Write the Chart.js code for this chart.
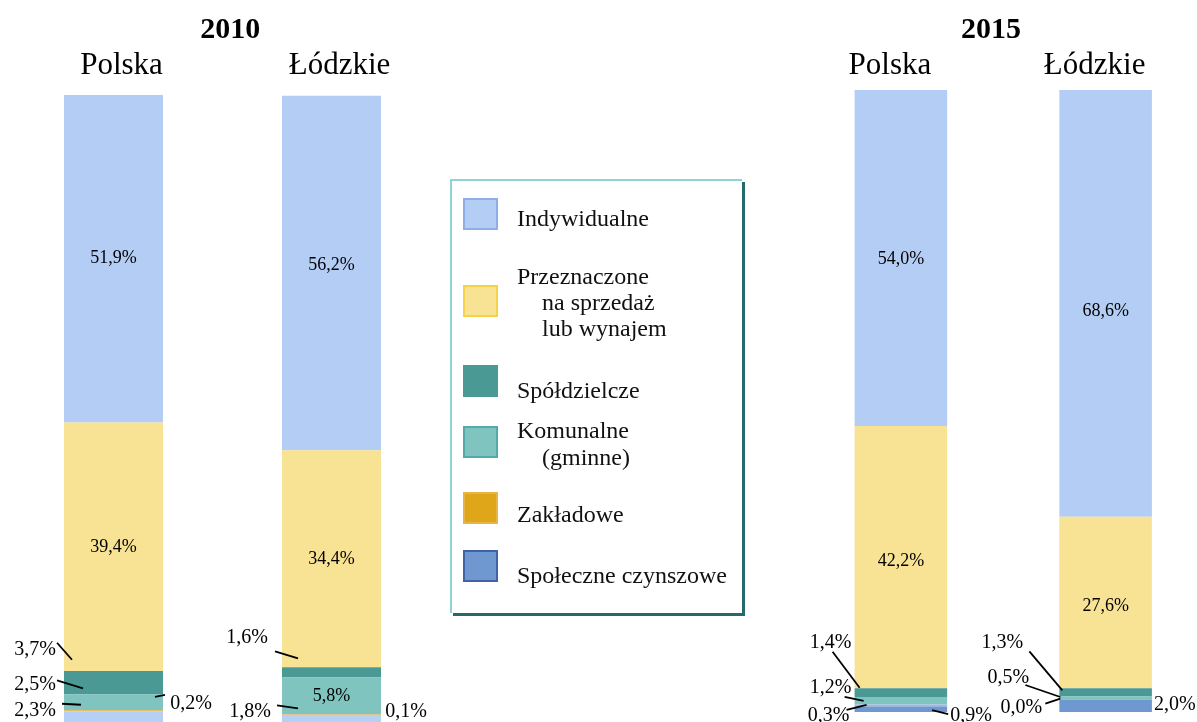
<!DOCTYPE html>
<html lang="pl">
<head>
<meta charset="utf-8">
<title>Mieszkania oddane do użytkowania – 2010 i 2015</title>
<script src="https://cdn.jsdelivr.net/npm/chart.js@4"></script>
<style>
    html, body { margin: 0; padding: 0; background: #fff; overflow: hidden; width: 1197px; height: 722px; }
    canvas { position: absolute; top: 0; }
    #wykres2010 { left: 0; }
    #wykres2015 { left: 774px; }
    #legenda {
        position: absolute; left: 450px; top: 179px; width: 292px; height: 434px;
        box-sizing: border-box; background: #fff;
        border-top: 2px solid #8fd3d9; border-left: 2px solid #8fd3d9;
        box-shadow: 3px 3px 0 #24696b;
        font-family: 'Liberation Serif', 'Times New Roman', serif; font-size: 24px; color: #111;
    }
    .pole { position: absolute; left: 11px; width: 31px; height: 28px; border: 2px solid; }
    .opis { position: absolute; height: 26px; line-height: 26px; white-space: nowrap; }
</style>
</head>
<body>
<canvas id="wykres2010" width="456" height="730"></canvas>
<canvas id="wykres2015" width="434" height="722"></canvas>
<div id="legenda"></div>
<script>
const FONT = "'Liberation Serif', 'Times New Roman', serif";

const categories = ['Polska', 'Łódzkie'];
const seriesNames = ['Indywidualne', 'Przeznaczone\nna sprzedaż\nlub wynajem', 'Spółdzielcze',
    'Komunalne\n(gminne)', 'Zakładowe', 'Społeczne czynszowe'];

// struktura mieszkań oddanych do użytkowania [%] – Polska, Łódzkie
const indywidualne2010 = [51.9, 56.2];
const przeznaczone2010 = [39.4, 34.4];
const spoldzielcze2010 = [3.7, 1.6];
const komunalne2010 = [2.5, 5.8];
const zakladowe2010 = [0.2, 0.1];
const spoleczne2010 = [2.3, 1.8];

const indywidualne2015 = [54.0, 68.6];
const przeznaczone2015 = [42.2, 27.6];
const spoldzielcze2015 = [1.4, 1.3];
const komunalne2015 = [1.2, 0.5];
const zakladowe2015 = [0.3, 0.0];
const spoleczne2015 = [0.9, 2.0];

const fillColors = ['#b4cdf4', '#f8e294', '#4a9994', '#80c4c0', '#e0a61a', '#7098d0'];
const edgeColors = ['#8eafe6', '#f6d24a', '#4a9994', '#52aba8', '#e8b446', '#3f63a6'];
// w 2010 społeczne czynszowe jasnoniebieskie, w 2015 zakładowe niebieskawe
const colors2010 = ['#b4cdf4', '#f8e294', '#4a9994', '#80c4c0', '#e8b13c', '#b6cff5'];
const colors2015 = ['#b4cdf4', '#f8e294', '#4a9994', '#80c4c0', '#9db7e6', '#7098d0'];

// rozmieszczenie etykiet: wewnątrz słupka albo z boku z odnośnikiem
const places2010 = [
    [{ inside: true, dy: 0 }, { inside: true, dy: -8 }],
    [{ inside: true, dy: 0 }, { inside: true, dy: 0 }],
    [{ side: 'left', dx: -29, dy: -33, line: [-7, -40, 8, -23] }, { side: 'left', dx: -35, dy: -35, line: [-7, -21, 16, -14] }],
    [{ side: 'left', dx: -29, dy: -18, line: [-7, -22, 19, -14] }, { inside: true, dy: 1 }],
    [{ side: 'right', dx: 28, dy: -7, line: [-8, -14, 2, -16] }, { side: 'right', dx: 25, dy: -3 }],
    [{ side: 'left', dx: -29, dy: -8, line: [-2, -15, 17, -14] }, { side: 'left', dx: -32, dy: -9, line: [-5, -15, 16, -12] }]
];
const places2015 = [
    [{ inside: true, dy: 1 }, { inside: true, dy: 8 }],
    [{ inside: true, dy: 4 }, { inside: true, dy: 4 }],
    [{ side: 'left', dx: -24, dy: -50, line: [-22, -41, 5, -5] }, { side: 'left', dx: -57, dy: -50, line: [-30, -41, 3, -2] }],
    [{ side: 'left', dx: -24, dy: -13, line: [-10, -4, 9, 0] }, { side: 'left', dx: -51, dy: -20, line: [-34, -13, 1, -1] }],
    [{ side: 'left', dx: -26, dy: 10, line: [-8, 4.5, 12, -0.5] }, { side: 'left', dx: -38, dy: 8, line: [-14, 4, 1, -1] }],
    [{ side: 'right', dx: 24, dy: 7, line: [-15, 1, 1, 5] }, { side: 'right', dx: 23, dy: -1 }]
];

const formatPct = v => v.toFixed(1).replace('.', ',') + '%';

// etykiety procentowe przy segmentach słupków
const segmentLabels = {
    id: 'segmentLabels',
    afterDatasetsDraw(chart, args, opts) {
        const ctx = chart.ctx;
        ctx.save();
        ctx.fillStyle = '#000';
        ctx.strokeStyle = '#000';
        ctx.lineWidth = 1.8;
        ctx.textAlign = 'center';
        ctx.textBaseline = 'middle';
        chart.data.datasets.forEach((ds, di) => {
            const meta = chart.getDatasetMeta(di);
            meta.data.forEach((bar, ci) => {
                const place = opts.places[ds.seriesIndex][ci];
                const { x, y, base, width } = bar.getProps(['x', 'y', 'base', 'width'], true);
                const cy = (y + base) / 2;
                const text = formatPct(ds.data[ci]);
                if (place.inside) {
                    ctx.font = '18px ' + FONT;
                    ctx.fillText(text, x, cy + place.dy);
                    return;
                }
                const ax = place.side === 'left' ? x - width / 2 : x + width / 2;
                if (place.line) {
                    const [x1, y1, x2, y2] = place.line;
                    ctx.beginPath();
                    ctx.moveTo(ax + x1, cy + y1);
                    ctx.lineTo(ax + x2, cy + y2);
                    ctx.stroke();
                }
                ctx.font = '20px ' + FONT;
                ctx.fillText(text, ax + place.dx, cy + place.dy);
            });
        });
        ctx.restore();
    }
};

const buildDatasets = (values, colors, barPct) => seriesNames.map((name, i) => ({
    label: name.replace(/\n/g, ' '),
    seriesIndex: i,
    data: values[i],
    backgroundColor: colors[i],
    borderWidth: 0,
    categoryPercentage: 1,
    barPercentage: barPct
})).reverse(); // pierwsza seria na górze słupka

const makeChart = (id, title, datasets, places, cfg) => new Chart(document.getElementById(id), {
    type: 'bar',
    data: { labels: categories, datasets: datasets },
    options: {
        responsive: false,
        animation: false,
        layout: { padding: { left: cfg.padLeft, right: 0, top: 0, bottom: cfg.padBottom } },
        scales: {
            x: {
                stacked: true,
                position: 'top',
                grid: { display: false, drawTicks: false },
                border: { display: false },
                ticks: {
                    color: '#000',
                    font: { family: FONT, size: 31 },
                    padding: cfg.tickPad,
                    labelOffset: cfg.labelShift
                },
                afterFit: scale => { scale.height = cfg.axisHeight; }
            },
            y: {
                stacked: true,
                min: 0,
                max: 100,
                position: cfg.yPos,
                grid: { display: false },
                border: { display: false },
                ticks: { display: false },
                afterFit: scale => { scale.width = cfg.yWidth; }
            }
        },
        plugins: {
            legend: { display: false },
            tooltip: { enabled: false },
            title: {
                display: true,
                text: title,
                color: '#000',
                font: { family: FONT, size: 30, weight: 'bold' },
                padding: { top: 12, bottom: 0 }
            },
            segmentLabels: { places: places }
        }
    },
    plugins: [segmentLabels]
});

makeChart('wykres2010', '2010',
    buildDatasets([indywidualne2010, przeznaczone2010, spoldzielcze2010, komunalne2010, zakladowe2010, spoleczne2010], colors2010, 0.454),
    places2010,
    { padLeft: 4.5, padBottom: 4, yPos: 'right', yWidth: 15.5, axisHeight: 47, tickPad: 11, labelShift: 8 });

makeChart('wykres2015', '2015',
    buildDatasets([indywidualne2015, przeznaczone2015, spoldzielcze2015, komunalne2015, zakladowe2015, spoleczne2015], colors2015, 0.452),
    places2015,
    { padLeft: 0, padBottom: 10, yPos: 'left', yWidth: 24.5, axisHeight: 42, tickPad: 6, labelShift: -11 });

// legenda w ramce
const legendBoxTops = [17, 104, 184, 245, 311, 369];
const legendTextTops = [[37], [95, 121, 147], [209], [249, 276], [333], [394]];
const legend = document.getElementById('legenda');
seriesNames.forEach((name, i) => {
    const box = document.createElement('div');
    box.className = 'pole';
    box.style.top = legendBoxTops[i] + 'px';
    box.style.background = fillColors[i];
    box.style.borderColor = edgeColors[i];
    legend.appendChild(box);
    name.split('\n').forEach((line, k) => {
        const t = document.createElement('div');
        t.className = 'opis';
        t.textContent = line;
        t.style.left = (k === 0 ? 65 : 90) + 'px';
        t.style.top = (legendTextTops[i][k] - 13) + 'px';
        legend.appendChild(t);
    });
});
</script>
</body>
</html>
